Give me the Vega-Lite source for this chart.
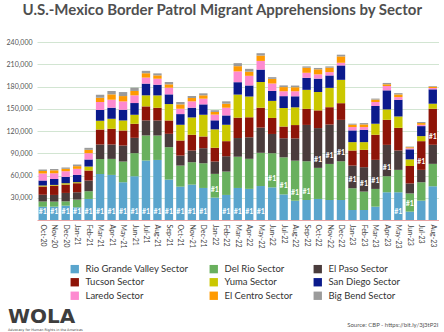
{
  "$schema": "https://vega.github.io/schema/vega-lite/v6.json",
  "background": "white",
  "padding": {"left": 6, "right": 4, "top": 3, "bottom": 1},
  "title": {"text": "U.S.-Mexico Border Patrol Migrant Apprehensions by Sector", "font": "Lato", "fontSize": 15, "fontWeight": "bold", "color": "#4f4f4f", "anchor": "middle", "offset": 20},
  "config": {"view": {"stroke": null}, "font": "Lato"},
  "resolve": {"scale": {"color": "independent"}, "legend": {"color": "independent"}},
  "vconcat": [{
    "title": {"text": "Source: CBP - https://bit.ly/3j3tP2I", "orient": "bottom", "anchor": "end", "fontSize": 6, "fontWeight": "normal", "color": "#555555", "offset": -9},
    "resolve": {"scale": {"color": "independent"}, "legend": {"color": "independent"}},
    "vconcat": [{
      "title": {"text": "WOLA", "subtitle": "Advocacy for Human Rights in the Americas", "orient": "bottom", "anchor": "start", "frame": "bounds", "font": "DejaVu Sans", "fontSize": 20, "fontWeight": "bold", "color": "#3d3d3d", "subtitleFont": "DejaVu Sans", "subtitleFontSize": 3.4, "subtitleColor": "#3d3d3d", "subtitlePadding": 0.5, "offset": 6, "dx": 2},
      "resolve": {"scale": {"color": "independent"}, "legend": {"color": "independent"}},
      "vconcat": [{
      "width": 401.5,
      "height": 178,
      "data": {"values": [
        {"m":"Oct-20","Rio Grande Valley Sector":18000,"Del Rio Sector":7000,"El Paso Sector":9000,"Tucson Sector":11200,"Yuma Sector":1300,"San Diego Sector":6700,"Laredo Sector":9500,"El Centro Sector":3500,"Big Bend Sector":2000},
        {"m":"Nov-20","Rio Grande Valley Sector":18000,"Del Rio Sector":6800,"El Paso Sector":9000,"Tucson Sector":12500,"Yuma Sector":1000,"San Diego Sector":8000,"Laredo Sector":7700,"El Centro Sector":4000,"Big Bend Sector":1800},
        {"m":"Dec-20","Rio Grande Valley Sector":19300,"Del Rio Sector":5900,"El Paso Sector":11300,"Tucson Sector":11300,"Yuma Sector":1800,"San Diego Sector":8500,"Laredo Sector":7700,"El Centro Sector":3200,"Big Bend Sector":1800},
        {"m":"Jan-21","Rio Grande Valley Sector":17100,"Del Rio Sector":10400,"El Paso Sector":9900,"Tucson Sector":12200,"Yuma Sector":1400,"San Diego Sector":9900,"Laredo Sector":8100,"El Centro Sector":3600,"Big Bend Sector":2200},
        {"m":"Feb-21","Rio Grande Valley Sector":28400,"Del Rio Sector":10400,"El Paso Sector":14400,"Tucson Sector":13500,"Yuma Sector":5400,"San Diego Sector":9500,"Laredo Sector":8500,"El Centro Sector":4500,"Big Bend Sector":2700},
        {"m":"Mar-21","Rio Grande Valley Sector":62100,"Del Rio Sector":20300,"El Paso Sector":19400,"Tucson Sector":20300,"Yuma Sector":11700,"San Diego Sector":14400,"Laredo Sector":10800,"El Centro Sector":5900,"Big Bend Sector":4100},
        {"m":"Apr-21","Rio Grande Valley Sector":60800,"Del Rio Sector":21600,"El Paso Sector":19400,"Tucson Sector":21200,"Yuma Sector":13500,"San Diego Sector":14900,"Laredo Sector":10800,"El Centro Sector":7200,"Big Bend Sector":4500},
        {"m":"May-21","Rio Grande Valley Sector":50900,"Del Rio Sector":27900,"El Paso Sector":21600,"Tucson Sector":20300,"Yuma Sector":13500,"San Diego Sector":14400,"Laredo Sector":11300,"El Centro Sector":7200,"Big Bend Sector":5400},
        {"m":"Jun-21","Rio Grande Valley Sector":59000,"Del Rio Sector":31100,"El Paso Sector":20700,"Tucson Sector":18900,"Yuma Sector":12200,"San Diego Sector":15800,"Laredo Sector":10400,"El Centro Sector":5900,"Big Bend Sector":4500},
        {"m":"Jul-21","Rio Grande Valley Sector":80200,"Del Rio Sector":33800,"El Paso Sector":20300,"Tucson Sector":18900,"Yuma Sector":14900,"San Diego Sector":15800,"Laredo Sector":8100,"El Centro Sector":5900,"Big Bend Sector":3200},
        {"m":"Aug-21","Rio Grande Valley Sector":81000,"Del Rio Sector":32900,"El Paso Sector":20300,"Tucson Sector":17100,"Yuma Sector":16700,"San Diego Sector":14400,"Laredo Sector":8100,"El Centro Sector":4500,"Big Bend Sector":2700},
        {"m":"Sep-21","Rio Grande Valley Sector":54500,"Del Rio Sector":43700,"El Paso Sector":18000,"Tucson Sector":18000,"Yuma Sector":22100,"San Diego Sector":13100,"Laredo Sector":9000,"El Centro Sector":4500,"Big Bend Sector":3200},
        {"m":"Oct-21","Rio Grande Valley Sector":45000,"Del Rio Sector":28400,"El Paso Sector":13500,"Tucson Sector":20300,"Yuma Sector":21200,"San Diego Sector":14400,"Laredo Sector":7200,"El Centro Sector":5900,"Big Bend Sector":3200},
        {"m":"Nov-21","Rio Grande Valley Sector":47700,"Del Rio Sector":30200,"El Paso Sector":15800,"Tucson Sector":21200,"Yuma Sector":23400,"San Diego Sector":13100,"Laredo Sector":8600,"El Centro Sector":4500,"Big Bend Sector":2700},
        {"m":"Dec-21","Rio Grande Valley Sector":43200,"Del Rio Sector":33300,"El Paso Sector":20300,"Tucson Sector":15800,"Yuma Sector":29300,"San Diego Sector":14000,"Laredo Sector":7700,"El Centro Sector":4500,"Big Bend Sector":2700},
        {"m":"Jan-22","Rio Grande Valley Sector":30200,"Del Rio Sector":32000,"El Paso Sector":16700,"Tucson Sector":18500,"Yuma Sector":24800,"San Diego Sector":12200,"Laredo Sector":7700,"El Centro Sector":3600,"Big Bend Sector":2300},
        {"m":"Feb-22","Rio Grande Valley Sector":33800,"Del Rio Sector":31500,"El Paso Sector":20700,"Tucson Sector":20300,"Yuma Sector":22100,"San Diego Sector":12600,"Laredo Sector":10400,"El Centro Sector":5400,"Big Bend Sector":3200},
        {"m":"Mar-22","Rio Grande Valley Sector":43200,"Del Rio Sector":42100,"El Paso Sector":25200,"Tucson Sector":27500,"Yuma Sector":31100,"San Diego Sector":16700,"Laredo Sector":14600,"El Centro Sector":7000,"Big Bend Sector":4100},
        {"m":"Apr-22","Rio Grande Valley Sector":42000,"Del Rio Sector":40500,"El Paso Sector":29000,"Tucson Sector":27000,"Yuma Sector":28000,"San Diego Sector":14900,"Laredo Sector":13000,"El Centro Sector":5600,"Big Bend Sector":3800},
        {"m":"May-22","Rio Grande Valley Sector":45800,"Del Rio Sector":44800,"El Paso Sector":34000,"Tucson Sector":26800,"Yuma Sector":34700,"San Diego Sector":16700,"Laredo Sector":11700,"El Centro Sector":7200,"Big Bend Sector":3200},
        {"m":"Jun-22","Rio Grande Valley Sector":44000,"Del Rio Sector":46000,"El Paso Sector":26000,"Tucson Sector":21600,"Yuma Sector":23000,"San Diego Sector":13500,"Laredo Sector":9900,"El Centro Sector":6300,"Big Bend Sector":2300},
        {"m":"Jul-22","Rio Grande Valley Sector":34500,"Del Rio Sector":50000,"El Paso Sector":25700,"Tucson Sector":15800,"Yuma Sector":25000,"San Diego Sector":16000,"Laredo Sector":6600,"El Centro Sector":5600,"Big Bend Sector":2300},
        {"m":"Aug-22","Rio Grande Valley Sector":26000,"Del Rio Sector":54000,"El Paso Sector":30000,"Tucson Sector":18000,"Yuma Sector":23900,"San Diego Sector":14900,"Laredo Sector":6800,"El Centro Sector":5400,"Big Bend Sector":2300},
        {"m":"Sep-22","Rio Grande Valley Sector":27000,"Del Rio Sector":52200,"El Paso Sector":49000,"Tucson Sector":21600,"Yuma Sector":25700,"San Diego Sector":16200,"Laredo Sector":6800,"El Centro Sector":6800,"Big Bend Sector":1800},
        {"m":"Oct-22","Rio Grande Valley Sector":28400,"Del Rio Sector":41900,"El Paso Sector":53600,"Tucson Sector":23900,"Yuma Sector":24800,"San Diego Sector":18000,"Laredo Sector":5800,"El Centro Sector":6800,"Big Bend Sector":1800},
        {"m":"Nov-22","Rio Grande Valley Sector":27000,"Del Rio Sector":48600,"El Paso Sector":53100,"Tucson Sector":23400,"Yuma Sector":26100,"San Diego Sector":16700,"Laredo Sector":4500,"El Centro Sector":5900,"Big Bend Sector":1800},
        {"m":"Dec-22","Rio Grande Valley Sector":27000,"Del Rio Sector":52200,"El Paso Sector":55800,"Tucson Sector":22500,"Yuma Sector":31500,"San Diego Sector":19400,"Laredo Sector":3600,"El Centro Sector":8600,"Big Bend Sector":2300},
        {"m":"Jan-23","Rio Grande Valley Sector":13500,"Del Rio Sector":29300,"El Paso Sector":30600,"Tucson Sector":20300,"Yuma Sector":11300,"San Diego Sector":15800,"Laredo Sector":4500,"El Centro Sector":3200,"Big Bend Sector":1400},
        {"m":"Feb-23","Rio Grande Valley Sector":13500,"Del Rio Sector":24800,"El Paso Sector":32900,"Tucson Sector":23400,"Yuma Sector":10400,"San Diego Sector":16700,"Laredo Sector":3600,"El Centro Sector":3600,"Big Bend Sector":1800},
        {"m":"Mar-23","Rio Grande Valley Sector":18000,"Del Rio Sector":23900,"El Paso Sector":39200,"Tucson Sector":33800,"Yuma Sector":14900,"San Diego Sector":23900,"Laredo Sector":5400,"El Centro Sector":3200,"Big Bend Sector":1400},
        {"m":"Apr-23","Rio Grande Valley Sector":37400,"Del Rio Sector":21600,"El Paso Sector":42300,"Tucson Sector":33800,"Yuma Sector":14000,"San Diego Sector":25700,"Laredo Sector":5900,"El Centro Sector":2300,"Big Bend Sector":1800},
        {"m":"May-23","Rio Grande Valley Sector":37400,"Del Rio Sector":30200,"El Paso Sector":26100,"Tucson Sector":30600,"Yuma Sector":15300,"San Diego Sector":22500,"Laredo Sector":3600,"El Centro Sector":3600,"Big Bend Sector":1800},
        {"m":"Jun-23","Rio Grande Valley Sector":11300,"Del Rio Sector":24500,"El Paso Sector":13500,"Tucson Sector":23500,"Yuma Sector":9000,"San Diego Sector":13500,"Laredo Sector":1400,"El Centro Sector":1400,"Big Bend Sector":900},
        {"m":"Jul-23","Rio Grande Valley Sector":26100,"Del Rio Sector":24800,"El Paso Sector":16700,"Tucson Sector":38700,"Yuma Sector":6800,"San Diego Sector":13500,"Laredo Sector":1800,"El Centro Sector":2300,"Big Bend Sector":1400},
        {"m":"Aug-23","Rio Grande Valley Sector":45500,"Del Rio Sector":30200,"El Paso Sector":25700,"Tucson Sector":48600,"Yuma Sector":6800,"San Diego Sector":19400,"Laredo Sector":1800,"El Centro Sector":1800,"Big Bend Sector":900}
      ]},
      "transform": [
        {"fold": ["Rio Grande Valley Sector","Del Rio Sector","El Paso Sector","Tucson Sector","Yuma Sector","San Diego Sector","Laredo Sector","El Centro Sector","Big Bend Sector"], "as": ["sector","n"]},
        {"calculate": "indexof(['Rio Grande Valley Sector','Del Rio Sector','El Paso Sector','Tucson Sector','Yuma Sector','San Diego Sector','Laredo Sector','El Centro Sector','Big Bend Sector'], datum.sector)", "as": "ord"}
      ],
      "encoding": {
        "x": {"field": "m", "type": "nominal", "sort": null,
              "scale": {"paddingInner": 0.27, "paddingOuter": 0.135},
              "axis": {"title": null, "labelAngle": 90, "labelFontSize": 7, "labelColor": "#444444", "ticks": false, "domainColor": "#e8a4a4", "domainWidth": 1, "labelPadding": 4}}
      },
      "layer": [
        {
          "mark": {"type": "bar"},
          "encoding": {
            "y": {"field": "n", "type": "quantitative", "stack": "zero",
                  "scale": {"domain": [0, 240000], "nice": false},
                  "axis": {"title": null, "values": [30000,60000,90000,120000,150000,180000,210000,240000], "format": ",d", "labelFontSize": 7, "labelColor": "#555555", "ticks": false, "domain": false, "gridColor": "#d2e5d2", "gridWidth": 1, "labelPadding": 5, "labelOverlap": false}},
            "order": {"field": "ord", "type": "quantitative", "sort": "ascending"},
            "color": {"field": "sector", "type": "nominal",
                      "sort": ["Rio Grande Valley Sector","Del Rio Sector","El Paso Sector","Tucson Sector","Yuma Sector","San Diego Sector","Laredo Sector","El Centro Sector","Big Bend Sector"],
                      "scale": {"domain": ["Rio Grande Valley Sector","Del Rio Sector","El Paso Sector","Tucson Sector","Yuma Sector","San Diego Sector","Laredo Sector","El Centro Sector","Big Bend Sector"],
                                "range": ["#5aa5cd","#69b05e","#4a3c3c","#8e1408","#cbc800","#0b1a8c","#fd8ad0","#ff9a00","#9b9b9b"]},
                      "legend": {"orient": "none", "legendX": 33, "legendY": 222, "direction": "horizontal", "columns": 3, "title": null, "padding": 0, "symbolType": "square", "symbolSize": 70, "symbolStrokeWidth": 0, "labelFontSize": 9.5, "labelColor": "#333333", "columnPadding": 20, "rowPadding": 2.5, "labelOffset": 6}}
          }
        },
        {
          "transform": [
            {"stack": "n", "groupby": ["m"], "sort": [{"field": "ord", "order": "ascending"}], "as": ["lo", "hi"]},
            {"joinaggregate": [{"op": "max", "field": "n", "as": "mx"}], "groupby": ["m"]},
            {"filter": "datum.n == datum.mx"}
          ],
          "mark": {"type": "text", "color": "white", "fontSize": 7, "fontWeight": "bold", "baseline": "middle", "dy": -8},
          "encoding": {
            "y": {"field": "lo", "type": "quantitative",
                  "scale": {"domain": [0, 240000], "nice": false},
                  "axis": {"title": null, "values": [30000,60000,90000,120000,150000,180000,210000,240000], "format": ",d", "labelFontSize": 7, "labelColor": "#555555", "ticks": false, "domain": false, "gridColor": "#d2e5d2", "gridWidth": 1, "labelPadding": 5, "labelOverlap": false}},
            "text": {"value": "#1"}
          }
        }
      ]
      }]
    }]
  }]
}
